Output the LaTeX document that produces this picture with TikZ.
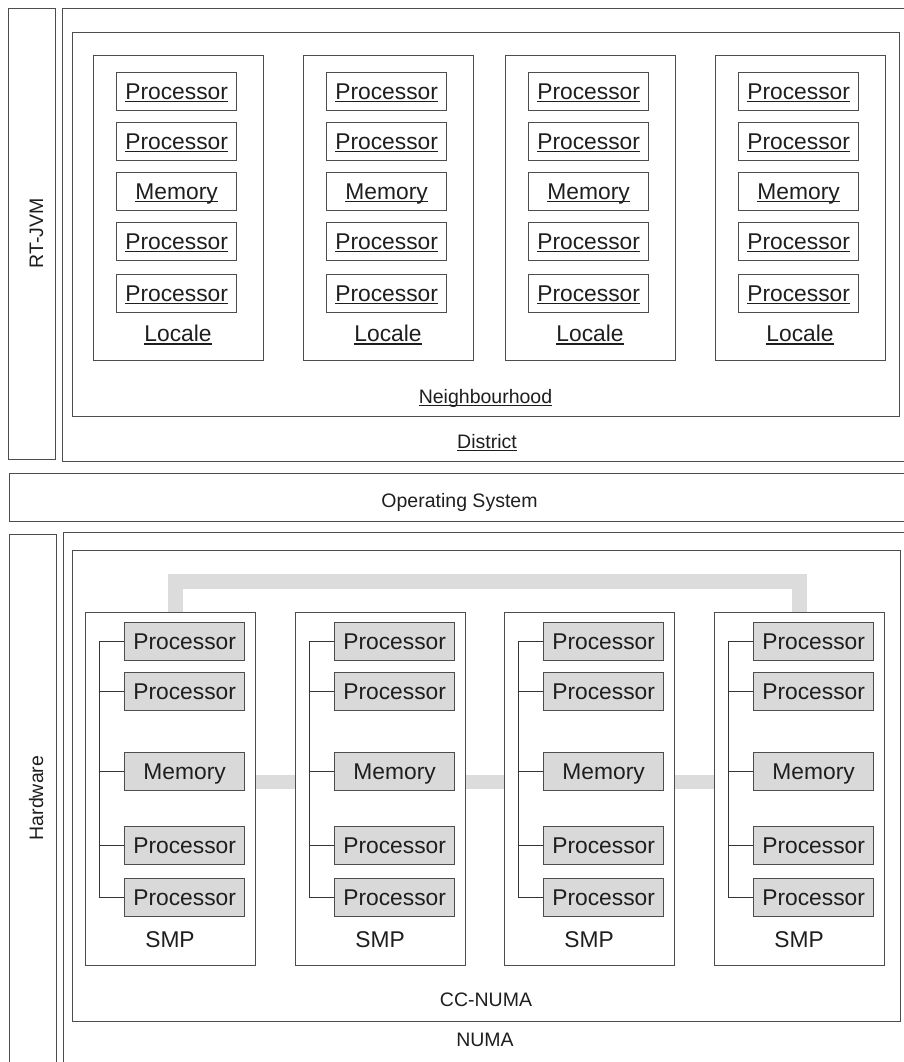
\documentclass[tikz,border=0pt]{standalone}
\usepackage{fontspec}
\setmainfont{Liberation Sans}
\usetikzlibrary{calc}
\definecolor{edge}{HTML}{4D4D4D}
\definecolor{ink}{HTML}{1E1E1E}
\definecolor{chip}{HTML}{D9D9D9}
\definecolor{fabriccol}{HTML}{DCDCDC}
\newlength\ulwd
% word-processor style underline at a fixed offset below the baseline
\newcommand\uline[1]{\settowidth\ulwd{#1}\rlap{\rule[-0.14em]{\ulwd}{0.06em}}#1}
\begin{document}
\begin{tikzpicture}[x=1pt, y=-1pt,
  frame/.style={draw=edge, line width=1.3pt, rectangle, inner sep=0pt, anchor=north west},
  unitbox/.style={frame, minimum width=120pt, minimum height=38pt,
    text height=17pt, text depth=2pt, text=ink, font=\fontsize{22.8}{26}\selectfont},
  hwbox/.style={unitbox, fill=chip},
  bigtxt/.style={text=ink, inner sep=0pt, anchor=base, font=\fontsize{22.8}{26}\selectfont},
  smalltxt/.style={text=ink, inner sep=0pt, anchor=base, font=\fontsize{19.5}{23}\selectfont},
  wire/.style={draw=ink!90, line width=1pt},
  fabric/.style={draw=fabriccol, line width=15pt}]
\useasboundingbox (0,0) rectangle (904,1062);
\clip (0,0) rectangle (904,1062);

% ---------------- software layers ----------------
\node[frame, minimum width=47pt, minimum height=451pt] (rtjvm) at (8,8) {};
\node[smalltxt, rotate=90] (rtjvm-lab) at (43,233.5) {RT-JVM};

\node[frame, minimum width=850pt, minimum height=453pt] (district) at (62,8) {};
\node[smalltxt] (district-lab) at (487,448) {\uline{District}};

\node[frame, minimum width=827pt, minimum height=384pt] (hood) at (72,32) {};
\node[smalltxt] (hood-lab) at (485.5,403) {\uline{Neighbourhood}};

\foreach \i/\x in {1/93, 2/303, 3/505, 4/715} {
  \node[frame, minimum width=170pt, minimum height=305pt] (loc\i) at (\x,55) {};
  \node[unitbox] (loc\i-p1) at (\x+23,72)  {\uline{Processor}};
  \node[unitbox] (loc\i-p2) at (\x+23,122) {\uline{Processor}};
  \node[unitbox] (loc\i-m)  at (\x+23,172) {\uline{Memory}};
  \node[unitbox] (loc\i-p4) at (\x+23,222) {\uline{Processor}};
  \node[unitbox] (loc\i-p5) at (\x+23,274) {\uline{Processor}};
  \node[bigtxt] (loc\i-lab) at (\x+85,341.5) {\uline{Locale}};
}

% ---------------- operating system ----------------
\node[frame, minimum width=901pt, minimum height=48pt] (os) at (9,473) {};
\node[smalltxt] (os-lab) at (459.5,507) {Operating System};

% ---------------- hardware ----------------
\node[frame, minimum width=47pt, minimum height=535pt] (hw) at (9,534) {};
\node[smalltxt, rotate=90] (hw-lab) at (43,798) {Hardware};

\node[frame, minimum width=847pt, minimum height=537pt] (numa) at (63,532) {};
\node[smalltxt] (numa-lab) at (485,1046) {NUMA};

\node[frame, minimum width=828pt, minimum height=471pt] (ccnuma) at (72,550) {};
\node[smalltxt] (ccnuma-lab) at (486,1006) {CC-NUMA};

\foreach \i/\x in {1/85, 2/295, 3/504, 4/714} {
  \node[frame, minimum width=170pt, minimum height=353pt] (smp\i) at (\x,612) {};
  \node[hwbox] (smp\i-p1) at (\x+39,622) {Processor};
  \node[hwbox] (smp\i-p2) at (\x+39,672) {Processor};
  \node[hwbox] (smp\i-m)  at (\x+39,752) {Memory};
  \node[hwbox] (smp\i-p4) at (\x+39,826) {Processor};
  \node[hwbox] (smp\i-p5) at (\x+39,878) {Processor};
  \node[bigtxt] (smp\i-lab) at (\x+85,947) {SMP};
  % local bus joining the units of one SMP
  \draw[wire] (smp\i-p1.west) -- ++(-25,0) |- (smp\i-p5.west);
  \foreach \k in {p2,m,p4}
    \draw[wire] (smp\i-\k.west) -- ++(-25,0);
}

% interconnect between the SMP nodes
\draw[fabric] ([xshift=4.5pt]smp1.north) -- ++(0,-31) -| (smp4.north);
\foreach \a/\b in {1/2, 2/3, 3/4}
  \draw[fabric, line width=14pt] ($(smp\a.east |- smp\a-m.center)+(0,10)$)
    -- ($(smp\b.west |- smp\b-m.center)+(0,10)$);
\end{tikzpicture}
\end{document}
